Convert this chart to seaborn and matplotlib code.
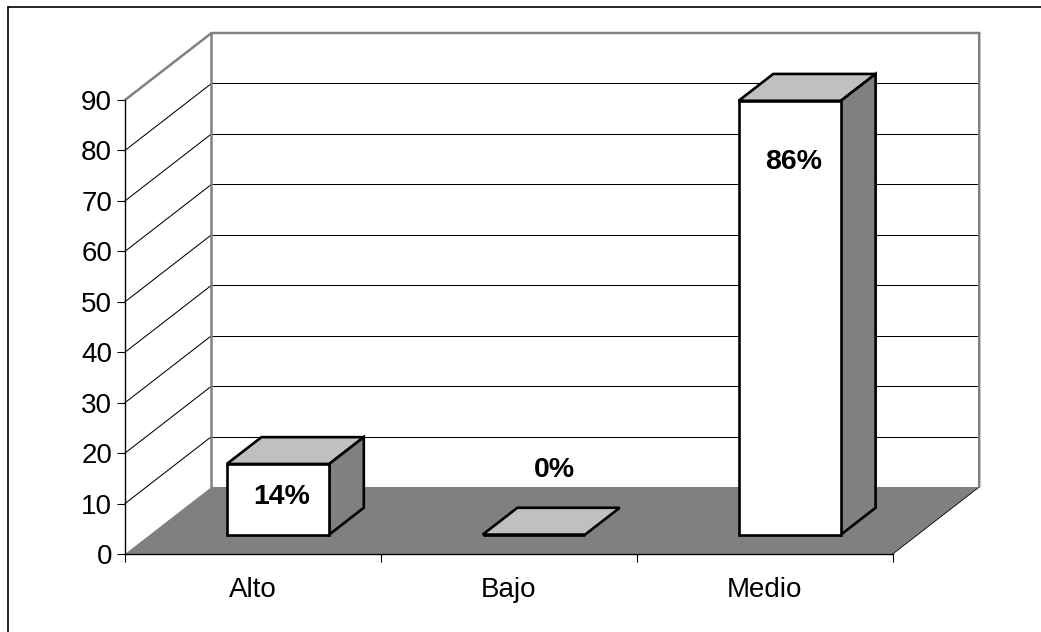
import matplotlib
matplotlib.use("Agg")
import matplotlib.pyplot as plt
from matplotlib.patches import Polygon
from matplotlib.lines import Line2D
import pandas as pd
import seaborn as sns

# ---- data -------------------------------------------------------------
CATEGORIES = ["Alto", "Bajo", "Medio"]
PERCENTAGES = [14, 0, 86]
Y_TICKS = [0, 10, 20, 30, 40, 50, 60, 70, 80, 90]

# ---- style ------------------------------------------------------------
sns.set_style("white")
plt.rcParams["font.family"] = ["Liberation Sans", "DejaVu Sans"]
plt.rcParams["text.color"] = "black"

FLOOR = "#808080"
SIDE = "#808080"
TOP = "#C0C0C0"
FRAME = "#808080"

FIG_W, FIG_H = 1041, 632
fig = plt.figure(figsize=(FIG_W / 100, FIG_H / 100), dpi=100)

# front plane of the 3-D box (pixel positions)
X0, X1 = 125.0, 892.7
Y0, Y1 = 554.0, 100.0
ax = fig.add_axes([X0 / FIG_W, 1 - Y0 / FIG_H,
                   (X1 - X0) / FIG_W, (Y0 - Y1) / FIG_H])
ax.patch.set_visible(False)

n = len(CATEGORIES)
vmax = Y_TICKS[-1]
px_per_cat = (X1 - X0) / n
px_per_unit = (Y0 - Y1) / vmax

# oblique depth direction, expressed in data units
DX = 86.5 / px_per_cat
DY = 67.0 / px_per_unit
BAR_FRONT, BAR_BACK = 0.29, 0.69


def proj(x, v, d):
    """Map a (category, value, depth) point onto the drawing plane."""
    return (x + d * DX, v + d * DY)


# ---- bars (front faces) -----------------------------------------------
df = pd.DataFrame({"categoria": CATEGORIES, "porcentaje": PERCENTAGES})
sns.barplot(data=df, x="categoria", y="porcentaje", color="white",
            saturation=1, width=0.4, edgecolor="black", linewidth=1.9,
            ax=ax, zorder=3)
bars = list(ax.patches)

xl, xr = -0.5, n - 0.5

# ---- floor and walls --------------------------------------------------
ax.add_patch(Polygon([proj(xl, 0, 0), proj(xr, 0, 0), proj(xr, 0, 1), proj(xl, 0, 1)],
                     closed=True, fc=FLOOR, ec="none", zorder=0.5, clip_on=False))
ax.add_line(Line2D(*zip(proj(xr, 0, 0), proj(xr, 0, 1)), color="black",
                   lw=0.6, zorder=0.6, clip_on=False))

for v in Y_TICKS[1:-1]:
    # back wall gridline
    ax.add_line(Line2D(*zip(proj(xl, v, 1), proj(xr, v, 1)), color="black",
                       lw=0.75, zorder=0.7, clip_on=False))
    # side wall gridline
    ax.add_line(Line2D(*zip(proj(xl, v, 0), proj(xl, v, 1)), color="black",
                       lw=0.75, zorder=0.7, clip_on=False))

frame_pts = [proj(xl, vmax, 0), proj(xl, vmax, 1), proj(xr, vmax, 1), proj(xr, 0, 1)]
ax.add_line(Line2D(*zip(*frame_pts), color=FRAME, lw=1.8, zorder=0.8,
                   clip_on=False, solid_joinstyle="miter"))
ax.add_line(Line2D(*zip(proj(xl, vmax, 1), proj(xl, 0, 1)), color=FRAME,
                   lw=1.8, zorder=0.8, clip_on=False))

# ---- 3-D bar bodies and value labels -----------------------------------
dd = BAR_BACK - BAR_FRONT
for bar, value in zip(bars, PERCENTAGES):
    x = bar.get_x() + BAR_FRONT * DX
    w = bar.get_width()
    h = bar.get_height()
    y = BAR_FRONT * DY
    bar.set_x(x)
    bar.set_y(y)
    bar.set_clip_on(False)

    top = [(x, y + h), (x + w, y + h),
           (x + w + dd * DX, y + h + dd * DY), (x + dd * DX, y + h + dd * DY)]
    ax.add_patch(Polygon(top, closed=True, fc=TOP, ec="black", lw=1.9,
                         zorder=2.9, clip_on=False, joinstyle="miter"))
    if h > 0:
        side = [(x + w, y), (x + w, y + h),
                (x + w + dd * DX, y + h + dd * DY), (x + w + dd * DX, y + dd * DY)]
        ax.add_patch(Polygon(side, closed=True, fc=SIDE, ec="black", lw=1.9,
                             zorder=2.9, clip_on=False, joinstyle="miter"))
        lx = x + w / 2 + 0.015
        ly = y + max(value / 2 + 0.45, value - 12.1)
    else:
        lx = x + w / 2 + dd / 2 * DX + 0.012
        ly = y + dd / 2 * DY + 10.1
    ax.text(lx, ly, f"{value}%", ha="center", va="center", fontsize=20.5,
            fontweight="bold", color="black", zorder=4, clip_on=False)

# ---- axes ---------------------------------------------------------------
ax.set_xlim(xl, xr)
ax.set_ylim(0, vmax)
ax.set_yticks(Y_TICKS)
ax.set_xticks([xl + i for i in range(n + 1)], labels=[""] * (n + 1))
ax.set_xticks(range(n), labels=CATEGORIES, minor=True)
ax.set_xlabel("")
ax.set_ylabel("")
ax.tick_params(axis="both", which="major", direction="out", length=5.8,
               width=0.8, color="black", labelcolor="black", labelsize=20,
               pad=3.5, bottom=True, left=True)
ax.tick_params(axis="x", which="minor", length=0, pad=16.5, labelsize=20,
               labelcolor="black", bottom=True)
sns.despine(ax=ax)
for side_name in ("left", "bottom"):
    ax.spines[side_name].set_color("black")
    ax.spines[side_name].set_linewidth(1.0)
    ax.spines[side_name].set_zorder(2.5)

# ---- chart frame --------------------------------------------------------
fx = 8 / FIG_W
fy = 1 - 7 / FIG_H
fig.add_artist(Line2D([fx, fx], [0, fy], transform=fig.transFigure,
                      color="black", lw=1.2))
fig.add_artist(Line2D([fx, 1], [fy, fy], transform=fig.transFigure,
                      color="black", lw=1.2))

fig.savefig("out.png", dpi=100)
